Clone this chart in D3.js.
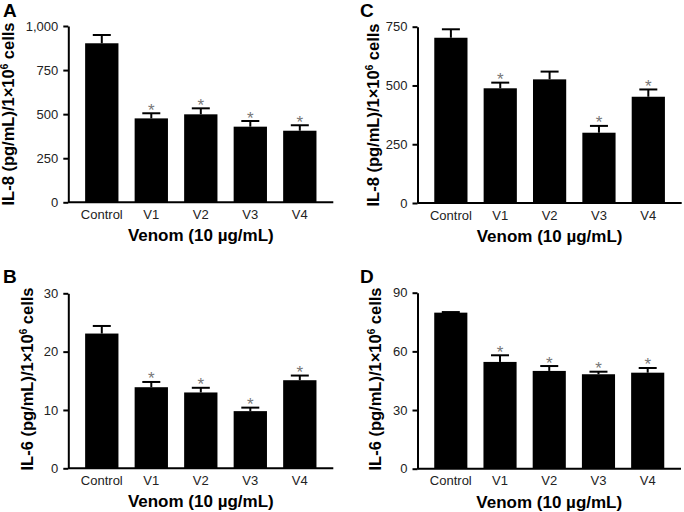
<!DOCTYPE html>
<html><head><meta charset="utf-8">
<script src="https://cdn.jsdelivr.net/npm/d3@7"></script>
<style>
body{margin:0;background:#fff;}
svg{display:block;font-family:"Liberation Sans",Arial,sans-serif;}
</style></head><body>
<svg id="c" width="684" height="512"></svg>
<script>
const categories = ["Control","V1","V2","V3","V4"];
const xTitle = "Venom (10 µg/mL)";

const valuesA = [902, 476, 499, 429, 406];
const errorsA = [47, 29, 34, 32, 31];
const starsA  = [false, true, true, true, true];
const ticksA  = [0, 250, 500, 750, 1000];

const valuesC = [703, 488, 526, 299, 452];
const errorsC = [36, 24, 33, 29, 31];
const starsC  = [false, true, false, true, true];
const ticksC  = [0, 250, 500, 750];

const valuesB = [23.1, 13.9, 13.0, 9.8, 15.1];
const errorsB = [1.3, 0.9, 0.8, 0.6, 0.8];
const starsB  = [false, true, true, true, true];
const ticksB  = [0, 10, 20, 30];

const valuesD = [79.8, 54.6, 50.0, 48.3, 49.1];
const errorsD = [0.3, 3.4, 2.5, 1.3, 2.4];
const starsD  = [false, true, true, true, true];
const ticksD  = [0, 30, 60, 90];

const panels = [
  {letter:"A", lx:3, ly:17, vals:valuesA, errs:errorsA, stars:starsA, ticks:ticksA, ymax:1000, il:"IL-8",
   x0:68.3, x1:333.3, top:26, bottom:202.3, tx:13.5, ty:114},
  {letter:"C", lx:360, ly:17, vals:valuesC, errs:errorsC, stars:starsC, ticks:ticksC, ymax:750, il:"IL-8",
   x0:417.5, x1:681.7, top:26.7, bottom:203, tx:378.5, ty:115},
  {letter:"B", lx:3, ly:283, vals:valuesB, errs:errorsB, stars:starsB, ticks:ticksB, ymax:30, il:"IL-6",
   x0:68.3, x1:333.3, top:293.3, bottom:468.3, tx:32.5, ty:379},
  {letter:"D", lx:360, ly:283, vals:valuesD, errs:errorsD, stars:starsD, ticks:ticksD, ymax:90, il:"IL-6",
   x0:417.5, x1:681, top:292.7, bottom:468.7, tx:380.5, ty:379}
];

const svg = d3.select("#c");
const fmt = d3.format(",");

panels.forEach(p => {
  const g = svg.append("g");
  const x = d3.scaleBand().domain(categories).range([p.x0, p.x1]).paddingInner(0.327).paddingOuter(0.34);
  const y = d3.scaleLinear().domain([0, p.ymax]).range([p.bottom, p.top]);

  g.selectAll("rect.bar").data(categories).enter().append("rect")
    .attr("x", d => x(d)).attr("width", x.bandwidth())
    .attr("y", (d,i) => y(p.vals[i])).attr("height", (d,i) => y(0) - y(p.vals[i]))
    .attr("fill", "#000");

  const cap = 18;
  categories.forEach((c,i) => {
    const cx = x(c) + x.bandwidth()/2;
    const yt = y(p.vals[i] + p.errs[i]);
    g.append("line").attr("x1",cx).attr("x2",cx).attr("y1",y(p.vals[i])).attr("y2",yt)
      .attr("stroke","#000").attr("stroke-width",2);
    g.append("line").attr("x1",cx-cap/2).attr("x2",cx+cap/2).attr("y1",yt).attr("y2",yt)
      .attr("stroke","#000").attr("stroke-width",2);
    if (p.stars[i]) {
      g.append("text").attr("x",cx).attr("y",yt+2.5).attr("text-anchor","middle")
        .attr("font-size",17).attr("fill","#777").text("*");
    }
  });

  const ya = g.append("g").attr("transform",`translate(${p.x0},0)`)
    .call(d3.axisLeft(y).tickValues(p.ticks).tickFormat(fmt).tickSize(5).tickPadding(5).tickSizeOuter(0));
  ya.select(".domain").attr("stroke","#000").attr("stroke-width",2);
  ya.selectAll(".tick line").attr("stroke","#000").attr("stroke-width",2);
  ya.selectAll(".tick text").attr("font-size",13).attr("fill","#222")
    .attr("font-family","'Liberation Sans',Arial,sans-serif");

  const xa = g.append("g").attr("transform",`translate(0,${p.bottom})`)
    .call(d3.axisBottom(x).tickSize(0).tickPadding(7.5).tickSizeOuter(0));
  xa.select(".domain").attr("stroke","#000").attr("stroke-width",2)
    .attr("d", `M${p.x0},0H${p.x1}`);
  xa.selectAll(".tick text").attr("font-size",13).attr("fill","#222")
    .attr("font-family","'Liberation Sans',Arial,sans-serif");

  g.append("text").attr("x",(p.x0+p.x1)/2).attr("y",p.bottom+39)
    .attr("text-anchor","middle").attr("font-size",17).attr("font-weight","bold")
    .attr("fill","#000").text(xTitle);

  const t = g.append("text").attr("transform",`translate(${p.tx},${p.ty}) rotate(-90)`)
    .attr("text-anchor","middle").attr("font-size",16.5).attr("font-weight","bold").attr("fill","#000");
  t.append("tspan").text(p.il + " (pg/mL)/1×10");
  t.append("tspan").attr("font-size",10).attr("dy",-6).text("6");
  t.append("tspan").attr("dy",6).text(" cells");

  g.append("text").attr("x",p.lx).attr("y",p.ly).attr("font-size",19).attr("font-weight","bold")
    .attr("fill","#000").text(p.letter);
});
</script>
</body></html>
